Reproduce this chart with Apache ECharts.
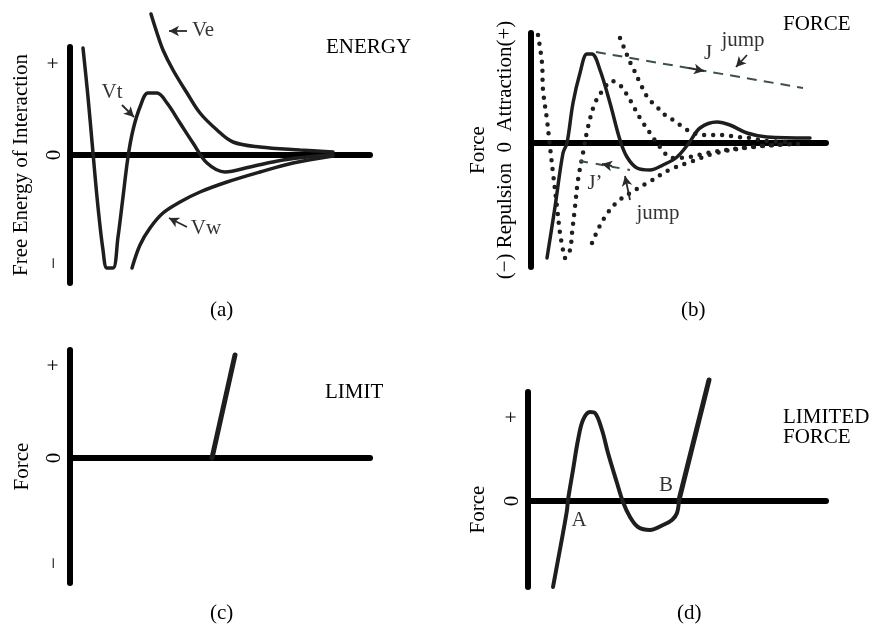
<!DOCTYPE html>
<html>
<head>
<meta charset="utf-8">
<script src="https://cdn.jsdelivr.net/npm/echarts@6/dist/echarts.min.js"></script>
<style>
html, body { margin: 0; padding: 0; background: #fff; }
#chart { width: 872px; height: 624px; }
</style>
</head>
<body>
<div id="chart"></div>
<script>
// ---- (a) ENERGY : free energy vs separation ----
const vtCurve = [[0.13,1.07],[0.18,0.58],[0.23,0.02],[0.28,-0.52],[0.33,-0.95],[0.37,-1.13],[0.43,-1.13],
  [0.48,-0.82],[0.53,-0.42],[0.58,-0.02],[0.63,0.25],[0.70,0.48],[0.78,0.62],[0.87,0.62],[0.97,0.52],
  [1.10,0.32],[1.23,0.12],[1.37,-0.08],[1.55,-0.17],[1.80,-0.12],[2.13,-0.05],[2.47,-0.01],[2.63,0]];
const veCurve = [[0.81,1.41],[0.87,1.22],[0.93,1.05],[1.03,0.85],[1.17,0.62],[1.30,0.42],[1.47,0.25],
  [1.63,0.13],[1.90,0.08],[2.30,0.05],[2.63,0.03]];
const vwCurve = [[0.62,-1.13],[0.70,-0.90],[0.80,-0.73],[0.93,-0.58],[1.10,-0.47],[1.30,-0.37],
  [1.57,-0.27],[1.90,-0.17],[2.23,-0.08],[2.63,-0.01]];
const aNotes = [['Ve',1.33,1.25],['Vt',0.42,0.63],['Vw',1.36,-0.73]];
// arrows: tail x, tail y, head x, head y
const aArrows = [[1.17,1.24,0.99,1.24],[0.52,0.50,0.64,0.38],[1.17,-0.72,0.99,-0.63]];
const aTicks = [0.92, 0, -1.08];
const aTickText = ['+', '0', '−'];

// ---- (b) FORCE ----
const bSolid = [[0.16,-1.15],[0.24,-0.64],[0.32,-0.10],[0.36,0],[0.42,0.40],[0.49,0.70],[0.56,0.89],
  [0.61,0.89],[0.69,0.73],[0.79,0.40],[0.89,0.03],[0.96,-0.14],[1.06,-0.25],[1.19,-0.27],[1.32,-0.22],
  [1.46,-0.14],[1.58,0],[1.69,0.15],[1.86,0.21],[1.99,0.18],[2.16,0.10],[2.36,0.06],[2.79,0.05]];
const bDot1 = [[0.07,1.08],[0.11,0.80],[0.12,0.53],[0.16,0.23],[0.19,-0.04],[0.22,-0.30],[0.26,-0.64],
  [0.29,-0.90],[0.32,-1.07],[0.34,-1.15],[0.39,-1.07],[0.41,-0.90],[0.44,-0.64],[0.47,-0.37],[0.52,-0.10],
  [0.57,0.16],[0.64,0.40],[0.72,0.53],[0.81,0.62],[0.89,0.58],[0.99,0.43],[1.09,0.25],[1.19,0.10],
  [1.29,-0.04],[1.41,-0.15],[1.59,-0.14],[1.76,-0.10],[1.96,-0.07],[2.19,-0.04],[2.42,-0.02],[2.69,-0.01]];
const bDot2 = [[0.89,1.05],[0.94,0.93],[0.99,0.81],[1.04,0.71],[1.09,0.60],[1.17,0.45],[1.26,0.36],
  [1.34,0.28],[1.42,0.23],[1.52,0.16],[1.62,0.10],[1.76,0.08],[1.92,0.08],[2.06,0.06],[2.19,0.05],
  [2.36,0.02],[2.59,0.01]];
const bDot3 = [[0.61,-1.00],[0.72,-0.77],[0.85,-0.60],[0.99,-0.50],[1.18,-0.39],[1.38,-0.27],[1.59,-0.19],
  [1.85,-0.10],[2.22,-0.04],[2.59,-0.01]];
const bJump = [[0.65,0.91],[2.72,0.55]];
const bJumpBack = [[0.49,-0.18],[0.99,-0.27]];
const bNotes = [['J',1.77,0.90],['jump',2.12,1.03],['J’',0.64,-0.40],['jump',1.27,-0.70]];
const bArrows = [[1.58,0.75,1.73,0.72],[2.16,0.88,2.05,0.76],[0.81,-0.23,0.71,-0.21],[0.99,-0.57,0.94,-0.33]];

// ---- (c) LIMIT ----
const cLimit = [[1.42,0],[1.65,1.03]];
const cTicks = [0.93, 0, -1.05];
const cTickText = ['+', '0', '−'];

// ---- (d) LIMITED FORCE ----
const dCurve = [[0.25,-0.86],[0.30,-0.59],[0.35,-0.32],[0.39,-0.09],[0.40,0.01],[0.45,0.31],[0.50,0.61],
  [0.55,0.81],[0.62,0.89],[0.67,0.88],[0.74,0.71],[0.80,0.48],[0.89,0.18],[0.95,-0.01],[1.02,-0.16],
  [1.10,-0.26],[1.22,-0.29],[1.35,-0.24],[1.44,-0.19],[1.49,-0.12],[1.51,0.01]];
const dLimit = [[1.51,0.01],[1.81,1.21]];
const dNotes = [['A',0.51,-0.19],['B',1.38,0.16]];
const dTicks = [0.84, 0];
const dTickText = ['+', '0'];

const FONT = 'Liberation Serif';
const INK = '#1e1e1e';

function xAx(grid, max) {
  return {
    type: 'value', gridIndex: grid, min: 0, max: max,
    axisLine: { onZero: true, lineStyle: { color: '#000', width: 6 } },
    axisTick: { show: false }, axisLabel: { show: false }, splitLine: { show: false }
  };
}

function yAx(grid, min, max, ticks, texts, name, gap, pad, hideLine) {
  return {
    type: 'value', gridIndex: grid, position: 'left', min: min, max: max,
    name: name, nameLocation: 'middle', nameGap: gap,
    nameTextStyle: { fontFamily: FONT, fontSize: 21, color: '#000', padding: pad },
    axisLine: { show: !hideLine, onZero: false, lineStyle: { color: '#000', width: 6 } },
    axisTick: { show: false },
    axisLabel: {
      show: ticks.length > 0, rotate: 90, margin: 5,
      fontFamily: FONT, fontSize: 21, color: '#000',
      customValues: ticks,
      formatter: (v) => texts[ticks.indexOf(v)] || ''
    },
    splitLine: { show: false }
  };
}

function curve(x, y, data, width, dash) {
  return {
    type: 'line', xAxisIndex: x, yAxisIndex: y, data: data, smooth: 0.35,
    showSymbol: false, clip: false, silent: true,
    lineStyle: { color: INK, width: width, type: dash || 'solid', cap: 'round' }
  };
}

function notes(x, y, list) {
  return {
    type: 'scatter', xAxisIndex: x, yAxisIndex: y, symbolSize: 0, silent: true, clip: false,
    data: list.map((n) => ({ name: n[0], value: [n[1], n[2]] })),
    label: { show: true, position: 'inside', formatter: '{b}', fontFamily: FONT, fontSize: 21, color: '#000' }
  };
}

// each arrow is a two point line with an arrow symbol on the head point
function arrows(x, y, list) {
  return list.map((a) => {
    const ang = Math.atan2(a[3] - a[1], a[2] - a[0]) * 180 / Math.PI;
    return {
      type: 'line', xAxisIndex: x, yAxisIndex: y, clip: false, silent: true,
      symbol: 'none', showSymbol: true, showAllSymbol: true,
      lineStyle: { color: '#2a2a2a', width: 1.8 },
      data: [
        [a[0], a[1]],
        { value: [a[2], a[3]], symbol: 'arrow', symbolSize: [8, 10], symbolRotate: ang - 90,
          itemStyle: { color: '#2a2a2a' } }
      ]
    };
  });
}

const dots = [0, 9];
const jumpLine = (data, dash) => Object.assign(curve(1, 1, data, 2), {
  lineStyle: { color: '#3b5244', width: 2, type: dash }
});

const option = {
  backgroundColor: '#fff',
  animation: false,
  grid: [
    { left: 70, top: 47, width: 300, height: 236 },
    { left: 531, top: 33, width: 295, height: 234 },
    { left: 70, top: 350, width: 300, height: 233 },
    { left: 528, top: 392, width: 298, height: 195 }
  ],
  xAxis: [xAx(0, 3.0), xAx(1, 2.95), xAx(2, 3.0), xAx(3, 2.98)],
  yAxis: [
    yAx(0, -1.28, 1.08, aTicks, aTickText, 'Free Energy of Interaction', 38, [0, 0, 0, 0]),
    yAx(1, -1.24, 1.10, [], [], '(−) Repulsion  0  Attraction(+)', 15, [0, 0, 0, 0]),
    yAx(1, -1.24, 1.10, [], [], 'Force', 42, [0, 0, 0, 0], true),
    yAx(2, -1.25, 1.08, cTicks, cTickText, 'Force', 37, [0, 0, 0, 0]),
    yAx(3, -0.86, 1.09, dTicks, dTickText, 'Force', 39, [0, 40, 0, 0])
  ],
  graphic: [
    { type: 'text', left: 326, top: 37, style: { text: 'ENERGY', font: '21px "Liberation Serif"', fill: '#000' } },
    { type: 'text', left: 783, top: 14, style: { text: 'FORCE', font: '21px "Liberation Serif"', fill: '#000' } },
    { type: 'text', left: 325, top: 382, style: { text: 'LIMIT', font: '21px "Liberation Serif"', fill: '#000' } },
    { type: 'text', left: 783, top: 407, style: { text: 'LIMITED\nFORCE', font: '21px "Liberation Serif"', lineHeight: 20, fill: '#000' } },
    { type: 'text', left: 210, top: 300, style: { text: '(a)', font: '21px "Liberation Serif"', fill: '#000' } },
    { type: 'text', left: 681, top: 300, style: { text: '(b)', font: '21px "Liberation Serif"', fill: '#000' } },
    { type: 'text', left: 210, top: 603, style: { text: '(c)', font: '21px "Liberation Serif"', fill: '#000' } },
    { type: 'text', left: 677, top: 603, style: { text: '(d)', font: '21px "Liberation Serif"', fill: '#000' } }
  ],
  series: [
    curve(0, 0, vtCurve, 3.5),
    curve(0, 0, veCurve, 3.5),
    curve(0, 0, vwCurve, 3.5),
    notes(0, 0, aNotes),
    ...arrows(0, 0, aArrows),

    curve(1, 1, bSolid, 3.5),
    curve(1, 1, bDot1, 4.5, dots),
    curve(1, 1, bDot2, 4.5, dots),
    curve(1, 1, bDot3, 4.5, dots),
    jumpLine(bJump, [10, 7]),
    jumpLine(bJumpBack, [8, 8]),
    notes(1, 1, bNotes),
    ...arrows(1, 1, bArrows),

    curve(2, 3, cLimit, 5),

    curve(3, 4, dCurve, 4),
    curve(3, 4, dLimit, 5),
    notes(3, 4, dNotes)
  ]
};

const chart = echarts.init(document.getElementById('chart'));
chart.setOption(option);
</script>
</body>
</html>
